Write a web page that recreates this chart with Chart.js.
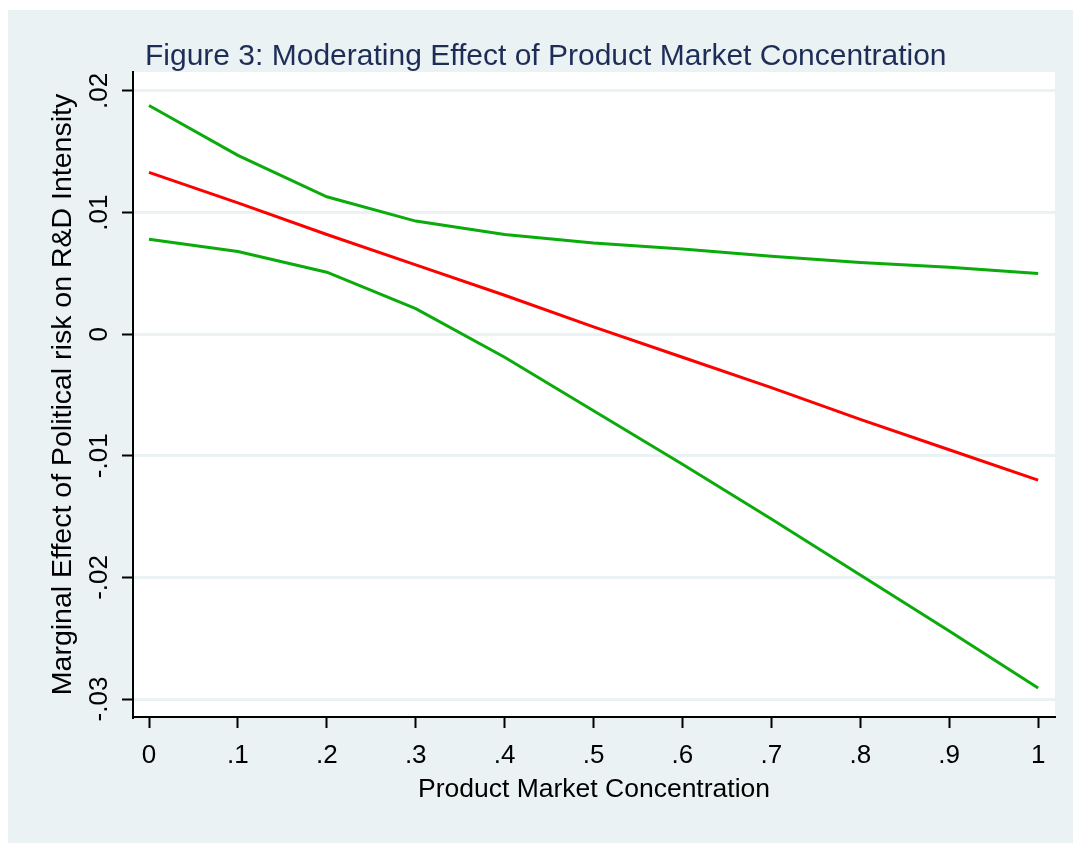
<!DOCTYPE html>
<html>
<head>
<meta charset="utf-8">
<title>Moderating Effect of Product Market Concentration</title>
<script src="https://cdn.jsdelivr.net/npm/chart.js@4/dist/chart.umd.min.js"></script>
<style>
  html, body { margin: 0; padding: 0; background: #ffffff; }
  #wrap { width: 1073px; height: 843px; }
</style>
</head>
<body>
<div id="wrap"><canvas id="marginChart" width="1073" height="843"></canvas></div>
<script>
// product market concentration grid
const concentration = [0, 0.1, 0.2, 0.3, 0.4, 0.5, 0.6, 0.7, 0.8, 0.9, 1];
// marginal effect and its confidence bounds
const marginalEffect = [0.0133, 0.0108, 0.0082, 0.0057, 0.0032, 0.0006, -0.0019, -0.0044, -0.0070, -0.0095, -0.0120];
const upperBound = [0.0188, 0.0147, 0.0113, 0.0093, 0.0082, 0.0075, 0.0070, 0.0064, 0.0059, 0.0055, 0.0050];
const lowerBound = [0.0078, 0.0068, 0.0051, 0.0021, -0.0019, -0.0063, -0.0107, -0.0152, -0.0198, -0.0244, -0.0291];

const xTicks = [0, 0.1, 0.2, 0.3, 0.4, 0.5, 0.6, 0.7, 0.8, 0.9, 1];
const xTickLabels = ['0', '.1', '.2', '.3', '.4', '.5', '.6', '.7', '.8', '.9', '1'];
const yTicks = [-0.03, -0.02, -0.01, 0, 0.01, 0.02];
const yTickLabels = ['-.03', '-.02', '-.01', '0', '.01', '.02'];

const BG = '#eaf2f3';
const FONT = 'Arial, "Liberation Sans", sans-serif';

const toPoints = ys => concentration.map((x, i) => ({ x: x, y: ys[i] }));

// stata-like backdrop: outer band, bluish region, white plot area, title
const backdrop = {
    id: 'backdrop',
    beforeDraw(chart) {
        const { ctx, chartArea } = chart;
        ctx.save();
        ctx.fillStyle = '#ffffff';
        ctx.fillRect(0, 0, chart.width, chart.height);
        ctx.fillStyle = BG;
        ctx.fillRect(8, 10, chart.width - 8, chart.height - 10);
        ctx.fillStyle = '#ffffff';
        ctx.fillRect(chartArea.left, chartArea.top, chartArea.right - chartArea.left, chartArea.bottom - chartArea.top);
        ctx.fillStyle = '#1e2d58';
        ctx.font = '30px ' + FONT;
        ctx.textAlign = 'left';
        ctx.textBaseline = 'alphabetic';
        ctx.fillText('Figure 3: Moderating Effect of Product Market Concentration', 145, 65);
        ctx.restore();
    }
};

const ctx = document.getElementById('marginChart').getContext('2d');

new Chart(ctx, {
    type: 'line',
    data: {
        datasets: [
            { label: 'Upper bound', data: toPoints(upperBound), borderColor: '#0aab0a' },
            { label: 'Lower bound', data: toPoints(lowerBound), borderColor: '#0aab0a' },
            { label: 'Marginal effect', data: toPoints(marginalEffect), borderColor: '#ff0000' }
        ]
    },
    options: {
        responsive: false,
        animation: false,
        layout: { padding: { top: 72, right: 18, bottom: 0, left: 0 } },
        elements: {
            point: { radius: 0, hoverRadius: 0 },
            line: { borderWidth: 3, tension: 0, fill: false }
        },
        plugins: {
            legend: { display: false },
            title: { display: false },
            tooltip: { enabled: false }
        },
        scales: {
            x: {
                type: 'linear',
                min: -0.018,
                max: 1.019,
                afterFit: s => { s.height = 126; },
                afterBuildTicks: s => { s.ticks = xTicks.map(v => ({ value: v })); },
                border: { display: true, color: '#000000', width: 2 },
                grid: { drawOnChartArea: false, drawTicks: true, tickLength: 11, tickColor: '#000000', tickWidth: 2 },
                ticks: {
                    autoSkip: false,
                    maxRotation: 0,
                    padding: 12,
                    color: '#000000',
                    font: { family: FONT, size: 26 },
                    callback: (v, i) => xTickLabels[i]
                },
                title: {
                    display: true,
                    text: 'Product Market Concentration',
                    color: '#000000',
                    font: { family: FONT, size: 26.5 },
                    padding: { top: 0, bottom: 37 }
                }
            },
            y: {
                type: 'linear',
                min: -0.03148,
                max: 0.02156,
                afterFit: s => { s.width = 133; },
                afterBuildTicks: s => { s.ticks = yTicks.map(v => ({ value: v })); },
                border: { display: true, color: '#000000', width: 2 },
                grid: { color: BG, lineWidth: 3, drawTicks: true, tickLength: 11, tickColor: '#000000', tickWidth: 2 },
                ticks: {
                    autoSkip: false,
                    minRotation: 90,
                    maxRotation: 90,
                    crossAlign: 'center',
                    padding: 0,
                    color: '#000000',
                    font: { family: FONT, size: 26 },
                    callback: (v, i) => yTickLabels[i]
                },
                title: {
                    display: true,
                    text: 'Marginal Effect of Political risk on R&D Intensity',
                    color: '#000000',
                    font: { family: FONT, size: 28.5 },
                    padding: { top: 46, bottom: 0 }
                }
            }
        }
    },
    plugins: [backdrop]
});
</script>
</body>
</html>
